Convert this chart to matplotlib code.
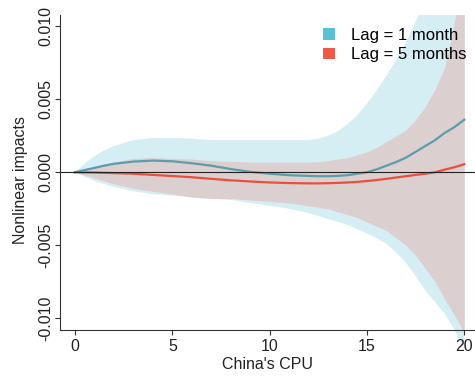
import matplotlib
matplotlib.use("Agg")
import matplotlib.pyplot as plt
from matplotlib.patches import Patch

plt.rcParams['font.family'] = ['Liberation Sans', 'DejaVu Sans']

# China's CPU grid (finer where the curves bend)
cpu = [0, 0.5, 1, 1.5, 2, 3, 4, 5, 6, 7, 8, 9, 10, 11,
       12, 12.5, 13, 13.5, 14, 14.5, 15, 15.5, 16, 16.5, 17, 17.5, 18, 18.5, 19, 19.5, 20]

# Lag = 1 month: estimate and band
lag1 = [0.0, 0.00015, 0.0003, 0.00045, 0.00058, 0.00073, 0.0008, 0.00075, 0.00062, 0.00045,
        0.00022, 0.00003, -0.0001, -0.0002,
        -0.00025, -0.00027, -0.00027, -0.00025, -0.0002, -0.0001, 0.0, 0.0002, 0.00045,
        0.0007, 0.001, 0.0014, 0.0018, 0.0022, 0.0027, 0.0031, 0.0036]
lag1_hi = [0.0, 0.0006, 0.0011, 0.0015, 0.0018, 0.0022, 0.00235, 0.00235, 0.0023, 0.0022,
           0.0022, 0.0022, 0.0022, 0.0022,
           0.0022, 0.0023, 0.0025, 0.0028, 0.0033, 0.0039, 0.0047, 0.0056, 0.0066,
           0.0077, 0.0089, 0.0103, 0.0118, 0.0135, 0.0155, 0.0177, 0.02]
lag1_lo = [0.0, -0.0003, -0.0006, -0.0008, -0.001, -0.0013, -0.0015, -0.0016, -0.0017, -0.0018,
           -0.0019, -0.0021, -0.0023, -0.0025,
           -0.0028, -0.003, -0.0032, -0.0034, -0.0036, -0.0039, -0.0042, -0.0045, -0.0049,
           -0.0055, -0.0062, -0.0071, -0.0081, -0.0089, -0.0097, -0.0108, -0.0122]

# Lag = 5 months: estimate and band
lag5 = [0.0, -0.00001, -0.00002, -0.00004, -0.00006, -0.0001, -0.00018, -0.00026, -0.00034, -0.00045,
        -0.00055, -0.00063, -0.0007, -0.00074,
        -0.00076, -0.00076, -0.00075, -0.00073, -0.0007, -0.00066, -0.0006, -0.00053, -0.00045,
        -0.00036, -0.00027, -0.00018, -0.0001, 0.0, 0.00018, 0.00035, 0.00055]
lag5_hi = [0.0, 0.0002, 0.0004, 0.00055, 0.0007, 0.00095, 0.001, 0.00095, 0.0009, 0.0008,
           0.00075, 0.0007, 0.0007, 0.0007,
           0.0007, 0.00072, 0.0008, 0.0009, 0.001, 0.0012, 0.0014, 0.0017, 0.0021,
           0.0025, 0.0029, 0.0036, 0.0045, 0.0057, 0.0072, 0.0103, 0.014]
lag5_lo = [0.0, -0.0002, -0.0004, -0.0006, -0.0008, -0.0011, -0.0013, -0.0015, -0.0017, -0.0018,
           -0.0018, -0.0019, -0.002, -0.0021,
           -0.0023, -0.0024, -0.0025, -0.0027, -0.0029, -0.0031, -0.0034, -0.0037, -0.004,
           -0.0045, -0.005, -0.0057, -0.0066, -0.0075, -0.0087, -0.0098, -0.011]

xticks = [0, 5, 10, 15, 20]
yticks = [-0.010, -0.005, 0.000, 0.005, 0.010]
ytick_labels = ['-0.010', '-0.005', '0.000', '0.005', '0.010']

fig = plt.figure(figsize=(4.75, 3.76), dpi=100)
ax = fig.add_axes([60 / 475, 1 - 345 / 376, 1 - 60 / 475, 330 / 376])

ax.fill_between(cpu, lag1_lo, lag1_hi, color='#d5eef4', lw=0)
ax.fill_between(cpu, lag5_lo, lag5_hi, color='#dccfd0', lw=0)
ax.plot(cpu, lag1, color='#5c9dab', lw=1.6)
ax.plot(cpu, lag5, color='#e8503c', lw=1.6)
ax.axhline(0, color='#222222', lw=0.8)

y_bot = -0.0108
y_top = 0.01077
ax.set_xlim(-0.77, 20.55)
ax.set_ylim(-0.01183, y_top)

# R style L-shaped box
ax.spines['top'].set_visible(False)
ax.spines['right'].set_visible(False)
ax.spines['bottom'].set_position(('data', y_bot))
ax.spines['left'].set_bounds(y_bot, y_top)
for s in ['left', 'bottom']:
    ax.spines[s].set_color('#333333')
    ax.spines[s].set_linewidth(0.8)

ax.set_xticks(xticks)
ax.set_yticks(yticks)
ax.set_yticklabels(ytick_labels, rotation=90, va='center')
ax.tick_params(axis='both', direction='out', length=3.6, width=0.8, color='#333333',
               labelsize=11.5, labelcolor='#222222')
ax.tick_params(axis='x', pad=3)
ax.tick_params(axis='y', pad=1.5)

ax.set_xlabel("China's CPU", fontsize=11.5, color='#222222')
ax.xaxis.set_label_coords(0.5, -0.035)
ax.xaxis.label.set_va('top')
ax.set_ylabel('Nonlinear impacts', fontsize=11.5, color='#222222')
ax.yaxis.set_label_coords(-0.078, 0.5)

handles = [Patch(facecolor='#5bbfd8', edgecolor='none'),
           Patch(facecolor='#ee5a48', edgecolor='none')]
fig.legend(handles, ['Lag = 1 month', 'Lag = 5 months'], loc='upper left',
           bbox_to_anchor=(323 / 475, 1 - 28 / 376), frameon=False, fontsize=12,
           handlelength=0.7, handleheight=0.7, handletextpad=1.0, labelspacing=0.25,
           borderpad=0, borderaxespad=0)

fig.savefig('out.png', dpi=100)
